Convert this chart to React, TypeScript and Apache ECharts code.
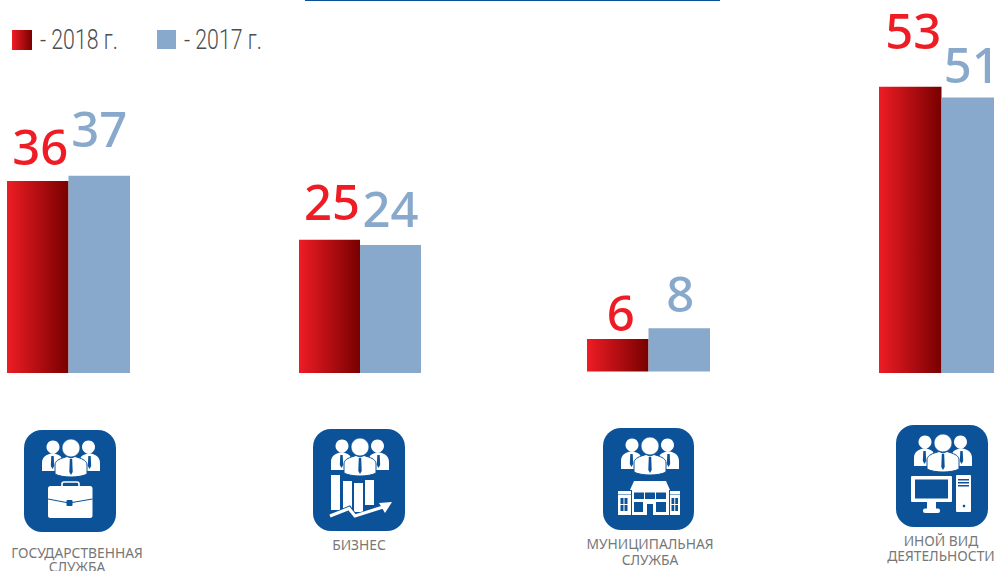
import React, { useEffect, useRef } from "react";
import * as echarts from "echarts";

const categories = ["Государственная служба", "Бизнес", "Муниципальная служба", "Иной вид деятельности"];
const values2018 = [36, 25, 6, 53];
const values2017 = [37, 24, 8, 51];
const seriesNames = ["2018", "2017"];
const captions = [["ГОСУДАРСТВЕННАЯ", "СЛУЖБА"], ["БИЗНЕС"], ["МУНИЦИПАЛЬНАЯ", "СЛУЖБА"], ["ИНОЙ ВИД", "ДЕЯТЕЛЬНОСТИ"]];

const BLUE = "#0b5299";
const BAR_BLUE = "#88a9cc";
const RED = "#ee1c25";
const FONT = "'Noto Sans', sans-serif";
const AXIS_MAX = 60;

const panels = [
  { left: 7, width: 123, bottom: 373, perUnit: 5.33, off: [[2.5, -11], [0, -23]] },
  { left: 299, width: 122, bottom: 373, perUnit: 5.33, off: [[2.5, -14], [0, -13]] },
  { left: 587, width: 123, bottom: 371.5, perUnit: 5.4, off: [[3, -3], [1, -11]] },
  { left: 879, width: 125, bottom: 373, perUnit: 5.4, off: [[3, -32], [-1, -9]] },
];
const iconBoxes = [
  { x: 24, y: 430, w: 92, h: 102 },
  { x: 313, y: 429, w: 92, h: 102 },
  { x: 603, y: 428, w: 91, h: 102 },
  { x: 896, y: 425, w: 92, h: 102 },
];
const captionLayout = [
  { x: 77, y: 552, lh: 14.5 },
  { x: 359, y: 544, lh: 15 },
  { x: 650, y: 543, lh: 16 },
  { x: 941, y: 540, lh: 15 },
];
const legendLayout = [
  { x: 12, w: 20, h: 20, tx: 40 },
  { x: 157, w: 19, h: 19, tx: 184 },
];

echarts.graphic.registerShape("peopleSideL", echarts.graphic.extendPath("M18 41V33C18 27 22 25 27 23.5L29.5 23L32 24C36 25 38 27 38 30V41Z", {}));
echarts.graphic.registerShape("peopleSideR", echarts.graphic.extendPath("M76 41V33C76 27 72 25 67 23.5L64.5 23L62 24C58 25 56 27 56 30V41Z", {}));
echarts.graphic.registerShape("peopleMid", echarts.graphic.extendPath("M31 44V35C31 31 35 29 40 27.5L43 26.5L47 28L51 26.5L54 27.5C59 29 63 31 63 35V44C56 48 38 48 31 44Z", {}));

const white = { fill: "#fff" };
const blue = { fill: BLUE };
const r = (x: number, y: number, width: number, height: number, style: any = white, rad = 0) => ({
  type: "rect", shape: { x, y, width, height, r: rad }, style,
});
const tie = (cx: number, top: number, len: number) => ({
  type: "polygon",
  shape: { points: [[cx - 1.2, top], [cx + 1.2, top], [cx + 1.7, top + len - 3], [cx, top + len], [cx - 1.7, top + len - 3]] },
  style: blue,
});

const people = [
  { type: "peopleSideL", style: white },
  { type: "peopleSideR", style: white },
  { type: "circle", shape: { cx: 29, cy: 17, r: 6.5 }, style: white },
  { type: "circle", shape: { cx: 64.5, cy: 17, r: 6.5 }, style: white },
  tie(28.5, 26, 13),
  tie(65.5, 26, 13),
  { type: "circle", shape: { cx: 47, cy: 18, r: 9 }, style: { fill: "#fff", stroke: BLUE, lineWidth: 0.8 } },
  { type: "peopleMid", style: { fill: "#fff", stroke: BLUE, lineWidth: 1 } },
  tie(47, 29, 16),
];

const briefcase = [
  { type: "rect", shape: { x: 38, y: 52, width: 17, height: 8, r: 2 }, style: { fill: "none", stroke: "#fff", lineWidth: 1.6 } },
  r(24, 56, 44.5, 32, white, 2.5),
  { type: "polyline", shape: { points: [[24, 69], [45, 73], [68.5, 69]] }, style: { fill: "none", stroke: BLUE, lineWidth: 1 } },
  r(42.5, 70, 6, 6, blue, 1),
];
const trend = [
  r(18, 46, 9, 35),
  r(30, 52, 9, 32),
  r(41, 54, 9, 29),
  r(52, 51, 9, 25),
  { type: "polyline", shape: { points: [[17, 88], [36, 80], [42, 88], [69, 79]] }, style: { fill: "none", stroke: BLUE, lineWidth: 6 } },
  { type: "polyline", shape: { points: [[17, 87], [36, 79.5], [42, 87], [70, 78]] }, style: { fill: "none", stroke: "#fff", lineWidth: 3.2 } },
  { type: "polygon", shape: { points: [[66, 74], [79, 73], [72, 84]] }, style: white },
];
const winRow = (x: number, y: number, w: number, h: number, cols: number, rows: number) => {
  const out: any[] = [];
  for (let c = 0; c < cols; c++) for (let j = 0; j < rows; j++) {
    out.push(r(x + (c * w) / cols, y + (j * h) / rows, w / cols - 1, h / rows - 1, blue));
  }
  return out;
};
const building = [
  { type: "polygon", shape: { points: [[31, 53], [63, 53], [67, 62], [27, 62]] }, style: white },
  r(29, 62, 37, 25),
  r(15, 63, 13, 3.5),
  r(67, 63, 10, 3.5),
  r(15, 67, 13, 20),
  r(67, 67, 10, 20),
  ...winRow(31, 64.5, 33, 7.5, 3, 1),
  ...winRow(31, 74, 10, 11, 1, 1),
  ...winRow(53, 74, 11, 11, 1, 1),
  r(44, 76, 6, 11, blue),
  ...winRow(17.5, 70, 8, 14, 2, 2),
  ...winRow(68.5, 70, 7.5, 14, 2, 2),
];
const computer = [
  r(15, 51, 41, 26, white, 1),
  r(19, 54.5, 33, 19, blue),
  r(31, 77, 9, 7),
  r(27, 83.5, 17, 4.5, white, 2),
  r(60, 50, 15, 37, white, 1),
  r(62, 54, 11, 1.5, blue),
  r(62, 57, 11, 1.5, blue),
  r(62, 60, 11, 1.5, blue),
  { type: "circle", shape: { cx: 68, cy: 81, r: 1.3 }, style: blue },
];
const pictograms = [briefcase, trend, building, computer];

export default function App() {
  const ref = useRef<HTMLDivElement>(null);
  useEffect(() => {
    const chart = echarts.init(ref.current!, undefined, { renderer: "svg" });
    const redFill = new echarts.graphic.LinearGradient(0, 0, 1, 0, [
      { offset: 0, color: RED },
      { offset: 1, color: "#780000" },
    ]);
    const labelStyle = (color: string, off: number[]) => ({
      show: true, position: "top", distance: 0, offset: off, color,
      fontFamily: FONT, fontSize: 49, fontWeight: 500,
    });
    const series: any[] = [];
    panels.forEach((p, i) => {
      series.push({
        type: "bar", name: seriesNames[0], xAxisIndex: i, yAxisIndex: i, barWidth: p.width / 2, barGap: 0,
        data: [values2018[i]], itemStyle: { color: redFill }, label: labelStyle(RED, p.off[0]),
      });
      series.push({
        type: "bar", name: seriesNames[1], xAxisIndex: i, yAxisIndex: i, barWidth: p.width / 2, barGap: 0,
        data: [values2017[i]], itemStyle: { color: BAR_BLUE }, label: labelStyle(BAR_BLUE, p.off[1]),
      });
    });
    const elements: any[] = [
      { type: "rect", shape: { x: 305, y: 0, width: 415, height: 1 }, style: { fill: BLUE } },
    ];
    legendLayout.forEach((l, i) => {
      elements.push({
        type: "rect", shape: { x: l.x, y: 30, width: l.w, height: l.h },
        style: { fill: i === 0 ? redFill : BAR_BLUE },
      });
      elements.push({
        type: "text", x: l.tx, y: 39.5, scaleX: 0.76,
        style: {
          text: `- ${seriesNames[i]} г.`, fill: "#4d4d4d",
          font: "300 28px Roboto, sans-serif", textAlign: "left", textVerticalAlign: "middle",
        },
      });
    });
    iconBoxes.forEach((b, i) => {
      elements.push({
        type: "group", x: b.x, y: b.y,
        children: [
          { type: "rect", shape: { x: 0, y: 0, width: b.w, height: b.h, r: 18 }, style: blue },
          ...people,
          ...pictograms[i],
        ],
      });
      captions[i].forEach((line, j) => {
        elements.push({
          type: "text", x: captionLayout[i].x, y: captionLayout[i].y + j * captionLayout[i].lh,
          style: { text: line, fill: "#777", font: `13.8px ${FONT}`, textAlign: "center", textVerticalAlign: "middle" },
        });
      });
    });
    chart.setOption({
      animation: false,
      backgroundColor: "#fff",
      grid: panels.map((p) => ({
        left: p.left, width: p.width, top: p.bottom - AXIS_MAX * p.perUnit, height: AXIS_MAX * p.perUnit,
        outerBoundsMode: "none",
      })),
      xAxis: panels.map((_, i) => ({ type: "category", gridIndex: i, show: false, data: [categories[i]] })),
      yAxis: panels.map((_, i) => ({ type: "value", gridIndex: i, show: false, min: 0, max: AXIS_MAX })),
      series,
      graphic: { elements },
    });
    return () => chart.dispose();
  }, []);
  return (
    <div style={{ position: "fixed", left: 0, top: 0, width: 994, height: 571, overflow: "hidden", background: "#fff" }}>
      <div ref={ref} style={{ width: 994, height: 571 }} />
    </div>
  );
}
